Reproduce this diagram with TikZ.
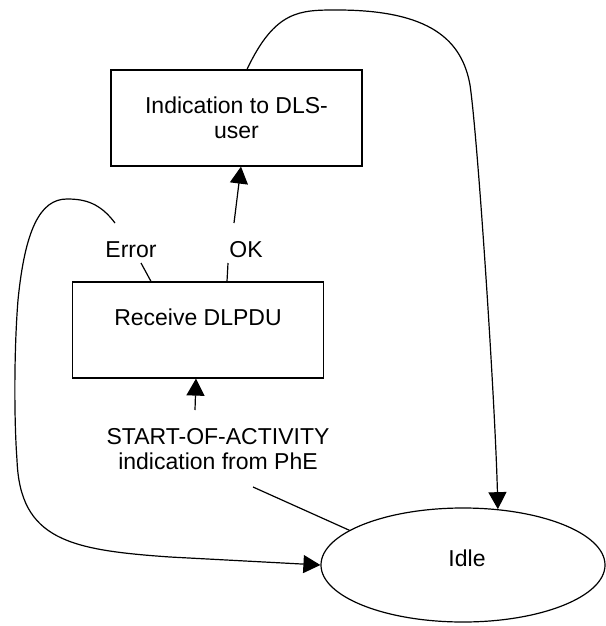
\documentclass[tikz,border=0pt]{standalone}
\usepackage{fontspec}
\setmainfont{Liberation Sans}
\usetikzlibrary{arrows.meta,shapes.geometric}

\begin{document}
\begin{tikzpicture}[x=1pt,y=-1pt,
  every node/.style={font=\fontsize{23}{25}\selectfont},
  box/.style={draw,line width=1.2pt,minimum width=251pt,minimum height=96pt,
    inner sep=0pt,align=center},
  state/.style={draw,ellipse,line width=1.2pt,minimum width=284pt,minimum height=114pt,
    inner sep=0pt},
  line/.style={line width=1.2pt},
  arr/.style={line width=1.2pt,-{Triangle[length=17pt,width=18pt]}}]

  \useasboundingbox (0,0) rectangle (605,626);

  % states
  \node[box] (indic) at (236.5,118) {Indication to DLS-\\user};
  \node[box] (recv) at (198,330) {Receive DLPDU\\\mbox{}};
  \node[state] (idle) at (463,565) {};
  \node at ([shift={(4,-7)}]idle.center) {Idle};

  % transition labels
  \node (err) at (131,250) {Error};
  \node (ok) at (246,250) {OK};
  \node[align=center] (soa) at (218,449.5) {START-OF-ACTIVITY\\indication from PhE};

  \coordinate (errA) at (141,263);
  \coordinate (errB) at (115,223);
  \coordinate (okA) at (228,263);
  \coordinate (okB) at (234,223);
  \coordinate (soaA) at (195,410);
  \coordinate (soaB) at (253,487);

  % OK
  \draw[line] ([xshift=29pt]recv.north) -- (okA);
  \draw[arr] (okB) -- ([xshift=4.5pt]indic.south);

  % Error
  \draw[line] ([xshift=-47pt]recv.north) -- (errA);
  \draw[arr] (errB) .. controls (100,203) and (85,199) .. (67,199)
    .. controls (40,199) and (25,230) .. (18,300)
    .. controls (14,350) and (14,420) .. (17,460)
    .. controls (20,540) and (70,550) .. (170,557) -- (idle.west);

  % START-OF-ACTIVITY
  \draw[arr] (soaA) -- ([xshift=-2pt]recv.south);
  \draw[line] (idle.163) -- (soaB);

  % back to Idle
  \draw[arr] ([xshift=10.5pt]indic.north) .. controls (275,10) and (300,10) .. (337,10)
    .. controls (430,10) and (462,40) .. (470,85)
    .. controls (478,140) and (495,400) .. (idle.58);

\end{tikzpicture}
\end{document}
